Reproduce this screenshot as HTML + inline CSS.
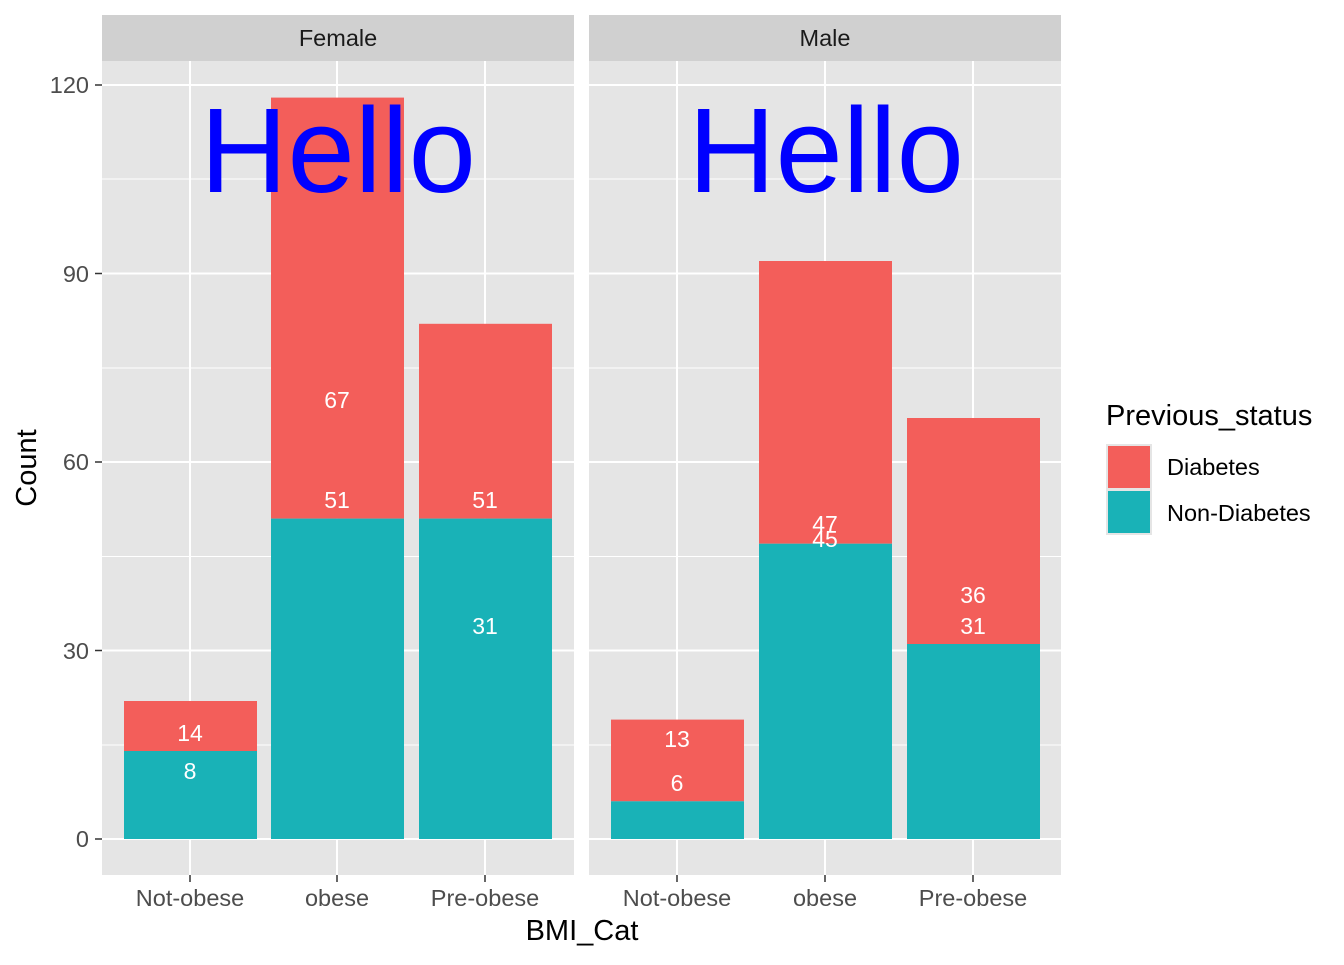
<!DOCTYPE html>
<html><head><meta charset="utf-8"><style>
html,body{margin:0;padding:0;background:#fff}
text{font-family:"Liberation Sans",Arial,sans-serif}
</style></head><body>
<svg width="1344" height="960" xmlns="http://www.w3.org/2000/svg">
<rect width="1344" height="960" fill="#fff"/>
<g id="p1">
<rect x="102" y="61" width="472" height="814" fill="#e5e5e5"/>
<rect x="102" y="15" width="472" height="46" fill="#d0d0d0"/>
<text x="338" y="46" font-size="23.5" text-anchor="middle" fill="#1a1a1a">Female</text>
<g stroke="#fff" stroke-width="1">
<line x1="102" x2="574" y1="745" y2="745"/><line x1="102" x2="574" y1="556.5" y2="556.5"/><line x1="102" x2="574" y1="368" y2="368"/><line x1="102" x2="574" y1="179" y2="179"/>
</g>
<g stroke="#fff" stroke-width="2">
<line x1="102" x2="574" y1="839" y2="839"/><line x1="102" x2="574" y1="650.5" y2="650.5"/><line x1="102" x2="574" y1="462" y2="462"/><line x1="102" x2="574" y1="273.5" y2="273.5"/><line x1="102" x2="574" y1="85" y2="85"/>
<line x1="190" x2="190" y1="61" y2="875"/><line x1="337" x2="337" y1="61" y2="875"/><line x1="485" x2="485" y1="61" y2="875"/>
</g>
<rect x="124" y="701" width="133" height="50" fill="#f35e5a"/><rect x="124" y="751" width="133" height="88" fill="#19b2b7"/>
<rect x="271" y="97.6" width="133" height="421" fill="#f35e5a"/><rect x="271" y="518.6" width="133" height="320.4" fill="#19b2b7"/>
<rect x="419" y="323.8" width="133" height="194.8" fill="#f35e5a"/><rect x="419" y="518.6" width="133" height="320.4" fill="#19b2b7"/>
<g fill="#fff" font-size="23" text-anchor="middle">
<text x="190" y="741">14</text><text x="190" y="779">8</text>
<text x="337" y="408">67</text><text x="337" y="508">51</text>
<text x="485" y="508">51</text><text x="485" y="634">31</text>
</g>
<text x="338" y="192" font-size="121" fill="#0000ff" text-anchor="middle">Hello</text>
</g>
<g id="p2">
<rect x="589" y="61" width="472" height="814" fill="#e5e5e5"/>
<rect x="589" y="15" width="472" height="46" fill="#d0d0d0"/>
<text x="825" y="46" font-size="23.5" text-anchor="middle" fill="#1a1a1a">Male</text>
<g stroke="#fff" stroke-width="1">
<line x1="589" x2="1061" y1="745" y2="745"/><line x1="589" x2="1061" y1="556.5" y2="556.5"/><line x1="589" x2="1061" y1="368" y2="368"/><line x1="589" x2="1061" y1="179" y2="179"/>
</g>
<g stroke="#fff" stroke-width="2">
<line x1="589" x2="1061" y1="839" y2="839"/><line x1="589" x2="1061" y1="650.5" y2="650.5"/><line x1="589" x2="1061" y1="462" y2="462"/><line x1="589" x2="1061" y1="273.5" y2="273.5"/><line x1="589" x2="1061" y1="85" y2="85"/>
<line x1="677" x2="677" y1="61" y2="875"/><line x1="825" x2="825" y1="61" y2="875"/><line x1="973" x2="973" y1="61" y2="875"/>
</g>
<rect x="611" y="719.6" width="133" height="81.7" fill="#f35e5a"/><rect x="611" y="801.3" width="133" height="37.7" fill="#19b2b7"/>
<rect x="759" y="261" width="133" height="282.7" fill="#f35e5a"/><rect x="759" y="543.7" width="133" height="295.3" fill="#19b2b7"/>
<rect x="907" y="418" width="133" height="226" fill="#f35e5a"/><rect x="907" y="644" width="133" height="195" fill="#19b2b7"/>
<g fill="#fff" font-size="23" text-anchor="middle">
<text x="677" y="747">13</text><text x="677" y="791">6</text>
<text x="825" y="532">47</text><text x="825" y="547">45</text>
<text x="973" y="603">36</text><text x="973" y="634">31</text>
</g>
<text x="826" y="192" font-size="121" fill="#0000ff" text-anchor="middle">Hello</text>
</g>
<g stroke="#333" stroke-width="1.5">
<line x1="95" x2="102" y1="839" y2="839"/><line x1="95" x2="102" y1="650.5" y2="650.5"/><line x1="95" x2="102" y1="462" y2="462"/><line x1="95" x2="102" y1="273.5" y2="273.5"/><line x1="95" x2="102" y1="85" y2="85"/>
<line x1="190" x2="190" y1="875" y2="882"/><line x1="337" x2="337" y1="875" y2="882"/><line x1="485" x2="485" y1="875" y2="882"/>
<line x1="677" x2="677" y1="875" y2="882"/><line x1="825" x2="825" y1="875" y2="882"/><line x1="973" x2="973" y1="875" y2="882"/>
</g>
<g fill="#4d4d4d" font-size="23.5" text-anchor="end">
<text x="89" y="847">0</text><text x="89" y="659">30</text><text x="89" y="470">60</text><text x="89" y="282">90</text><text x="89" y="93">120</text>
</g>
<g fill="#4d4d4d" font-size="23.5" text-anchor="middle">
<text x="190" y="906">Not-obese</text><text x="337" y="906">obese</text><text x="485" y="906">Pre-obese</text>
<text x="677" y="906">Not-obese</text><text x="825" y="906">obese</text><text x="973" y="906">Pre-obese</text>
</g>
<text x="582" y="940" font-size="29" text-anchor="middle" fill="#000">BMI_Cat</text>
<text transform="translate(36,468) rotate(-90)" font-size="29" text-anchor="middle" fill="#000">Count</text>
<text x="1106" y="425" font-size="29" fill="#000">Previous_status</text>
<rect x="1107" y="445" width="44" height="44" fill="#f35e5a" stroke="#e5e5e5" stroke-width="2"/>
<rect x="1107" y="490" width="44" height="44" fill="#19b2b7" stroke="#e5e5e5" stroke-width="2"/>
<text x="1167" y="475" font-size="23.5" fill="#000">Diabetes</text>
<text x="1167" y="521" font-size="23.5" fill="#000">Non-Diabetes</text>
</svg>
</body></html>
